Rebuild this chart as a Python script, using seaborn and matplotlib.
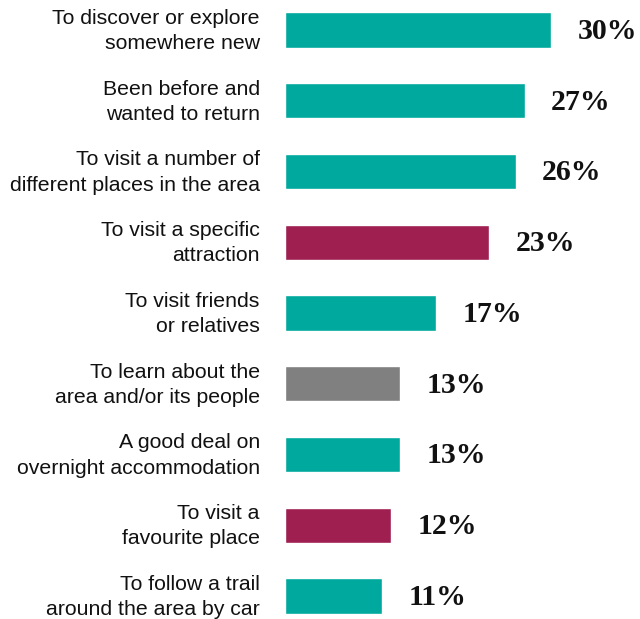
import matplotlib.pyplot as plt
import pandas as pd
import seaborn as sns

# reasons for visiting, top to bottom
reasons = [
    "To discover or explore\nsomewhere new",
    "Been before and\nwanted to return",
    "To visit a number of\ndifferent places in the area",
    "To visit a specific\nattraction",
    "To visit friends\nor relatives",
    "To learn about the\narea and/or its people",
    "A good deal on\novernight accommodation",
    "To visit a\nfavourite place",
    "To follow a trail\naround the area by car",
]
shares = [30, 27, 26, 23, 17, 13, 13, 12, 11]
groups = ["teal", "teal", "teal", "maroon", "teal", "grey", "teal", "maroon", "teal"]
colours = {"teal": "#00A99D", "maroon": "#9E1F50", "grey": "#808080"}

df = pd.DataFrame({"reason": reasons, "share": shares, "group": groups})

sns.set_style("white")
plt.rcParams["font.family"] = ["Liberation Sans", "DejaVu Sans"]

fig = plt.figure(figsize=(6.4, 6.19), dpi=100)
ax = fig.add_axes([0.445, 0.0, 0.555, 1.0])

sns.barplot(data=df, x="share", y="reason", hue="group", palette=colours,
            order=reasons, dodge=False, width=0.5, legend=False, ax=ax,
            saturation=1)

for i, v in enumerate(shares):
    ax.annotate(f"{v}%", xy=(v, i), xytext=(19, -1), textcoords="offset points",
                va="center", ha="left", fontsize=21.5, fontweight="bold",
                family="Liberation Serif", color="#111111")

# category labels drawn as text, right-aligned left of the bars
for i, r in enumerate(reasons):
    ax.annotate(r, xy=(0, i), xytext=(-18, -0.7), textcoords="offset points",
                va="center", ha="right", multialignment="right",
                fontsize=15.3, linespacing=1.42, color="#111111",
                annotation_clip=False)

ax.set_xlim(0, 40)
ax.set_ylim(8.325, -0.424)
ax.set_xlabel("")
ax.set_ylabel("")
ax.set_xticks([])
ax.set_yticks([])
sns.despine(ax=ax, left=True, bottom=True)

fig.savefig("out.png", dpi=100)
